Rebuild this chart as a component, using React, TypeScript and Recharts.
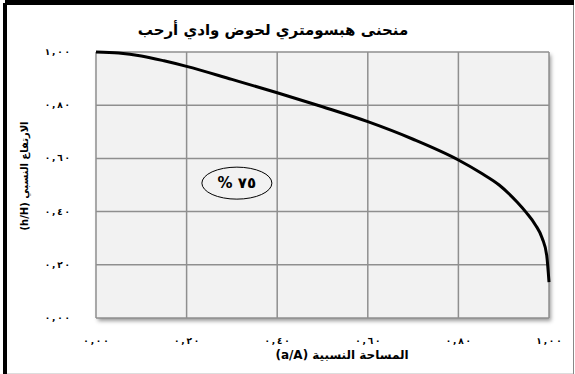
import {
  CartesianGrid,
  Line,
  LineChart,
  ReferenceDot,
  XAxis,
  YAxis,
} from "recharts";

// hypsometric curve: relative area (a/A) vs relative height (h/H)
const relArea = [0, 0.05, 0.1, 0.15, 0.2, 0.3, 0.4, 0.5, 0.6, 0.7, 0.8, 0.85, 0.89, 0.93, 0.95, 0.97, 0.985, 0.995, 1.0];
const relHeight = [1.0, 0.996, 0.985, 0.967, 0.946, 0.897, 0.847, 0.794, 0.738, 0.672, 0.594, 0.545, 0.5, 0.435, 0.396, 0.35, 0.3, 0.235, 0.135];
const ticks = [0, 0.2, 0.4, 0.6, 0.8, 1];

const TITLE = "منحنى هبسومتري لحوض وادي أرحب";
const X_TITLE = "المساحة النسبية (a/A)";
const Y_TITLE = "الارتفاع النسبي (h/H)";
const NOTE = "% ٧٥";
const NOTE_POS = { x: 0.311, y: 0.507 };

const data = relArea.map((a, i) => ({ a, h: relHeight[i] }));

const arabicDigits = "٠١٢٣٤٥٦٧٨٩";
// Arabic-Indic digits, comma separator, thin spaces between glyphs
const fmt = (v: number) =>
  v
    .toFixed(2)
    .replace(/\d/g, (d) => arabicDigits[Number(d)])
    .replace(".", ",")
    .split("")
    .join("\u2009");

const font = "'DejaVu Sans', sans-serif";

const Tick = (p: any) => (
  <text
    x={p.x}
    y={p.y}
    dy={p.dy}
    textAnchor={p.textAnchor}
    fontSize={9}
    fontWeight="bold"
    fontFamily={font}
    fill="#000"
    style={{ direction: "ltr", unicodeBidi: "bidi-override" }}
  >
    {fmt(p.payload.value)}
  </text>
);

export default function App() {
  return (
    <div
      style={{
        position: "absolute",
        left: 0,
        top: 0,
        width: 575,
        height: 374,
        background: "#fff",
        fontFamily: font,
        overflow: "hidden",
      }}
    >
      {/* frame */}
      <div style={{ position: "absolute", left: 5, top: 0, width: 569, height: 5, background: "#000" }} />
      <div style={{ position: "absolute", left: 3, top: 3, width: 4, height: 371, background: "#000" }} />
      <div style={{ position: "absolute", left: 573, top: 5, width: 1, height: 369, background: "#888" }} />
      <div style={{ position: "absolute", left: 7, top: 373, width: 566, height: 1, background: "#ddd" }} />

      {/* plot shadow */}
      <div
        style={{
          position: "absolute",
          left: 96,
          top: 52,
          width: 453,
          height: 266,
          boxShadow: "2px 3px 4px rgba(0,0,0,0.4)",
        }}
      />

      <div style={{ position: "absolute", left: 0, top: 0 }}>
        <LineChart
          width={575}
          height={374}
          data={data}
          margin={{ top: 52, right: 26, left: 0, bottom: 0 }}
        >
          <CartesianGrid stroke="#8f8f8f" strokeWidth={1.5} fill="#f2f2f2" />
          <XAxis
            type="number"
            dataKey="a"
            domain={[0, 1]}
            ticks={ticks}
            height={56}
            axisLine={false}
            tickLine={false}
            tickSize={0}
            tickMargin={20}
            tick={(p: any) => <Tick {...p} dy={6} textAnchor="middle" />}
          />
          <YAxis
            type="number"
            domain={[0, 1]}
            ticks={ticks}
            width={96}
            axisLine={false}
            tickLine={false}
            tickSize={0}
            tickMargin={26}
            tick={(p: any) => <Tick {...p} dy={3} textAnchor="end" />}
          />
          <Line
            type="monotone"
            dataKey="h"
            stroke="#000"
            strokeWidth={3}
            dot={false}
            isAnimationActive={false}
          />
          <ReferenceDot
            x={NOTE_POS.x}
            y={NOTE_POS.y}
            shape={(p: any) => (
              <g>
                <ellipse cx={p.cx} cy={p.cy} rx={35} ry={16} fill="none" stroke="#000" strokeWidth={1} />
                <text
                  x={p.cx}
                  y={p.cy}
                  dy="0.35em"
                  textAnchor="middle"
                  fontSize={15}
                  fontWeight="bold"
                  fontFamily={font}
                  fill="#000"
                >
                  {NOTE}
                </text>
              </g>
            )}
          />
        </LineChart>
      </div>

      <div
        dir="rtl"
        style={{
          position: "absolute",
          left: 0,
          width: 546,
          top: 18,
          textAlign: "center",
          fontSize: 15,
          fontWeight: "bold",
          lineHeight: "24px",
        }}
      >
        {TITLE}
      </div>
      <div
        dir="rtl"
        style={{
          position: "absolute",
          left: 242,
          width: 200,
          top: 346,
          textAlign: "center",
          fontSize: 12,
          fontWeight: "bold",
          lineHeight: "18px",
        }}
      >
        {X_TITLE}
      </div>
      <div
        dir="rtl"
        style={{
          position: "absolute",
          left: 25 - 80,
          top: 176 - 9,
          width: 160,
          textAlign: "center",
          fontSize: 10,
          fontWeight: "bold",
          lineHeight: "18px",
          transform: "rotate(-90deg)",
        }}
      >
        {Y_TITLE}
      </div>
    </div>
  );
}
